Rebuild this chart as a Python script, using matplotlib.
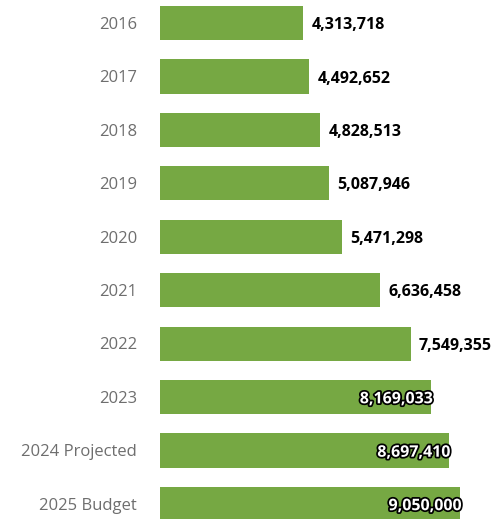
import matplotlib.pyplot as plt
import matplotlib.patheffects as pe

plt.rcParams['font.family'] = ['Open Sans', 'DejaVu Sans']

labels = ['2016', '2017', '2018', '2019', '2020', '2021', '2022', '2023',
          '2024 Projected', '2025 Budget']
values = [4313718, 4492652, 4828513, 5087946, 5471298, 6636458, 7549355,
          8169033, 8697410, 9050000]
inside = [False] * 7 + [True] * 3

fig = plt.figure(figsize=(5.03, 5.19), dpi=100)
ax = fig.add_axes([160 / 503, 0, 343 / 503, 1])

ypos = list(range(len(values)))
ax.barh(ypos, values, height=0.64, color='#76a843')
ax.set_xlim(0, 10.33e6)
ax.set_ylim(9.28, -0.43)

for y, v, ins in zip(ypos, values, inside):
    txt = f'{v:,}'
    if ins:
        ax.text(v + 0.05e6, y + 0.04, txt, ha='right', va='center', fontsize=11.5,
                fontweight='bold', color='white',
                path_effects=[pe.withStroke(linewidth=2.5, foreground='black')])
    else:
        ax.text(v + 0.25e6, y + 0.04, txt, ha='left', va='center', fontsize=11.5,
                fontweight='bold', color='black')

for y, lab in zip(ypos, labels):
    fig.text(137 / 503, 1 - (25 + y * 53.4) / 519, lab, ha='right', va='center',
             fontsize=12, color='#6e6e6e')

ax.axis('off')
fig.savefig('out.png', dpi=100)
